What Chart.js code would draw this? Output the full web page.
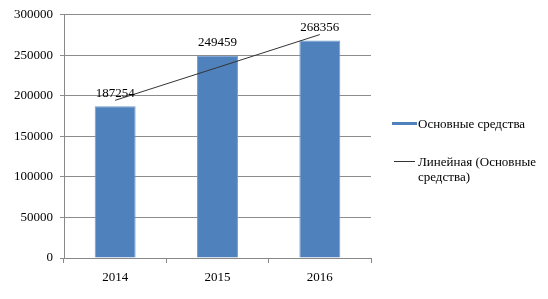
<!DOCTYPE html>
<html lang="ru">
<head>
    <meta charset="UTF-8">
    <title>Основные средства</title>
    <script src="https://cdn.jsdelivr.net/npm/chart.js@4.4.0/dist/chart.umd.min.js"></script>
    <style>
        body { margin: 0; background: #fff; }
        #wrap { position: relative; width: 548px; height: 299px; }
        #legend {
            position: absolute; left: 392px; top: 116px; width: 156px;
            font-family: "Liberation Serif", "Times New Roman", serif;
            font-size: 13px; color: #000; line-height: 15px;
        }
        .item { position: relative; padding-left: 26px; }
        .swatch { position: absolute; }
    </style>
</head>
<body>
    <div id="wrap">
        <canvas id="osChart" width="548" height="299"></canvas>
        <div id="legend"></div>
    </div>

    <script>
        // данные с картинки
        const years = ["2014", "2015", "2016"];
        const fixedAssets = [187254, 249459, 268356];
        // линия тренда (значения на концах)
        const trendValues = [194500, 235000, 275600];
        const yTicks = [0, 50000, 100000, 150000, 200000, 250000, 300000];

        const serif = "'Liberation Serif', 'Times New Roman', serif";

        // подписи над столбцами
        const barLabels = {
            id: "barLabels",
            afterDatasetsDraw(chart) {
                const ctx = chart.ctx;
                const meta = chart.getDatasetMeta(0);
                ctx.save();
                ctx.font = "13px " + serif;
                ctx.fillStyle = "#000";
                ctx.textAlign = "center";
                ctx.textBaseline = "middle";
                meta.data.forEach((bar, i) => {
                    ctx.fillText(String(fixedAssets[i]), bar.x, bar.y - 13);
                });
                ctx.restore();
            }
        };

        let osCtx = document.getElementById("osChart").getContext("2d");
        let osChart = new Chart(osCtx, {
            data: {
                labels: years,
                datasets: [
                    {
                        type: "bar",
                        label: "Основные средства",
                        data: fixedAssets,
                        backgroundColor: "#4f81bd",
                        borderColor: "#6f9bd0",
                        borderWidth: 1,
                        categoryPercentage: 1.0,
                        barPercentage: 0.4,
                        order: 1
                    },
                    {
                        type: "line",
                        label: "Линейная (Основные средства)",
                        data: trendValues,
                        borderColor: "#333",
                        borderWidth: 1,
                        pointRadius: 0,
                        tension: 0,
                        fill: false,
                        order: 0
                    }
                ]
            },
            options: {
                responsive: false,
                animation: false,
                layout: {
                    padding: { left: 0, right: 177, top: 14, bottom: 0 }
                },
                plugins: {
                    legend: { display: false },
                    tooltip: { enabled: false }
                },
                scales: {
                    x: {
                        offset: true,
                        grid: {
                            offset: true,
                            drawOnChartArea: false,
                            drawTicks: true,
                            tickLength: 5,
                            color: "#888"
                        },
                        border: { color: "#888", width: 1 },
                        ticks: {
                            color: "#000",
                            font: { family: serif, size: 13 },
                            padding: 7
                        },
                        afterFit(axis) { axis.height = 41; }
                    },
                    y: {
                        min: 0,
                        max: 300000,
                        afterBuildTicks(axis) { axis.ticks = yTicks.map(v => ({ value: v })); },
                        grid: {
                            color: "#8c8c8c",
                            tickLength: 4
                        },
                        border: { color: "#888", width: 1 },
                        ticks: {
                            color: "#000",
                            font: { family: serif, size: 13 },
                            padding: 7,
                            callback: (v) => String(v)
                        },
                        afterFit(axis) { axis.width = 64; }
                    }
                }
            },
            plugins: [barLabels]
        });

        // легенда справа (с переносом строки, как в оригинале)
        const legend = document.getElementById("legend");
        osChart.data.datasets.forEach((ds, i) => {
            const item = document.createElement("div");
            item.className = "item";
            item.style.marginBottom = i === 0 ? "23px" : "0";
            const sw = document.createElement("span");
            sw.className = "swatch";
            if (ds.type === "bar") {
                sw.style.cssText = "left:0;top:6px;width:25px;height:3px;background:" + ds.backgroundColor;
            } else {
                sw.style.cssText = "left:2px;top:7px;width:21px;height:1px;background:" + ds.borderColor;
            }
            item.appendChild(sw);
            item.appendChild(document.createTextNode(ds.label));
            legend.appendChild(item);
        });
    </script>
</body>
</html>
